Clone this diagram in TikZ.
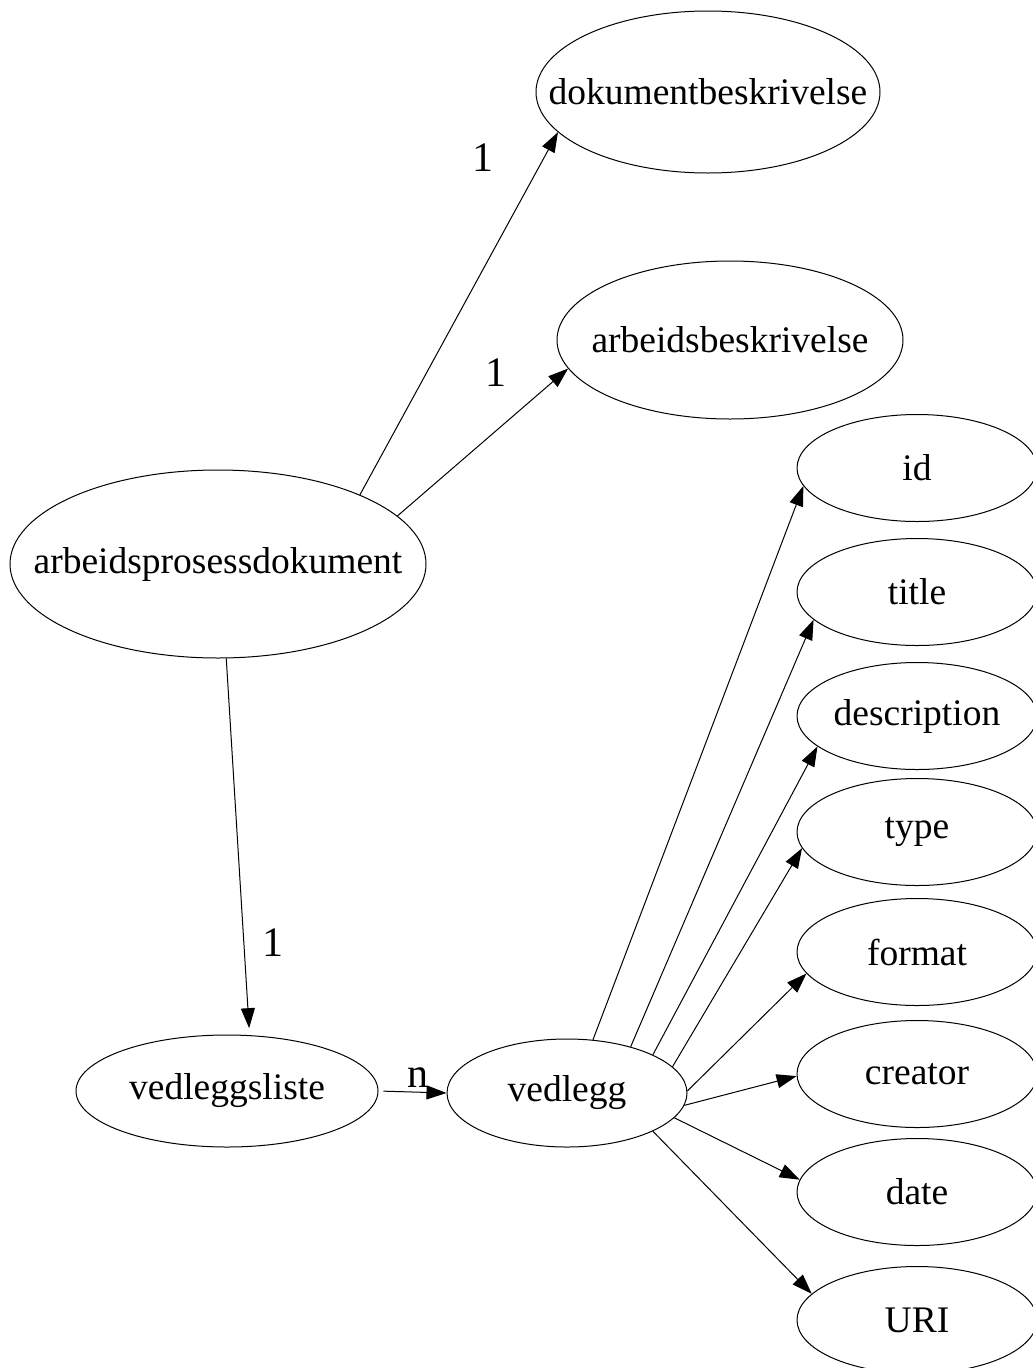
\documentclass[tikz,border=0pt]{standalone}
\usepackage{fontspec}
\setmainfont{Liberation Serif}
\usetikzlibrary{shapes.geometric,arrows.meta}
% zero-width label box, so the ellipse size comes from minimum width/height only
\newcommand\entlabel[1]{\makebox[0pt]{#1}}
\begin{document}
\begin{tikzpicture}[x=1pt,y=-1pt,
  ent/.style={ellipse,draw,line width=1pt,inner sep=0pt,
    font=\fontsize{37.5}{44}\selectfont},
  attr/.style={ent,minimum width=240pt,minimum height=107pt},
  link/.style={line width=1pt,-{Triangle[length=20pt,width=14pt]}},
  card/.style={font=\fontsize{42}{48}\selectfont,inner sep=0pt}]
\useasboundingbox (0,0) rectangle (1033,1368);

% main entities
\node[ent,minimum width=344pt,minimum height=162pt] (dok) at (708,92) {\entlabel{dokumentbeskrivelse}};
\node[ent,minimum width=346pt,minimum height=158pt] (arb) at (730,340) {\entlabel{arbeidsbeskrivelse}};
\node[ent,minimum width=416pt,minimum height=188pt] (apd) at (218,564) {\entlabel{arbeidsprosessdokument}};
\node[ent,minimum width=302pt,minimum height=112pt] (vl) at (227,1091) {\entlabel{vedleggsliste}};
\node[ent,minimum width=240pt,minimum height=108pt] (v) at (567,1093) {\entlabel{vedlegg}};

% attributes of vedlegg
\node[attr] (id)    at (917,468) {\entlabel{id}};
\node[attr] (title) at (917,592) {\entlabel{title}};
\node[attr] (desc)  at (917,716) {\entlabel{description}};
\node[attr] (type)  at (917,832) {\entlabel{type}};
\node[attr] (fmt)   at (917,952) {\entlabel{format}};
\node[attr] (crt)   at (917,1074) {\entlabel{creator}};
\node[attr] (date)  at (917,1192) {\entlabel{date}};
\node[attr] (uri)   at (917,1320) {\entlabel{URI}};

% relations with cardinalities
\draw[link] (apd.26) -- (dok.195);
\node[card] (c1) at (483,158) {1};
\draw[link] (apd.15) -- (arb.190);
\node[card] (c2) at (496,373) {1};
\draw[link,shorten >=7pt] (apd.275) -- (vl.68);
\node[card] (c3) at (273,943) {1};
\draw[link,shorten <=5pt] (vl.east) -- (v.west);
\node[card] (cn) at (418,1078) {n};

% vedlegg to its attributes
\draw[link] (v.64)  -- (id.189);
\draw[link] (v.36)  -- (title.195);
\draw[link] (v.24)  -- (desc.197);
\draw[link] (v.14)  -- (type.188);
\draw[link] (v.1)   -- (fmt.191);
\draw[link] (v.354) -- (crt.181);
\draw[link] (v.347) -- (date.174);
\draw[link] (v.336) -- (uri.166);
\end{tikzpicture}
\end{document}
